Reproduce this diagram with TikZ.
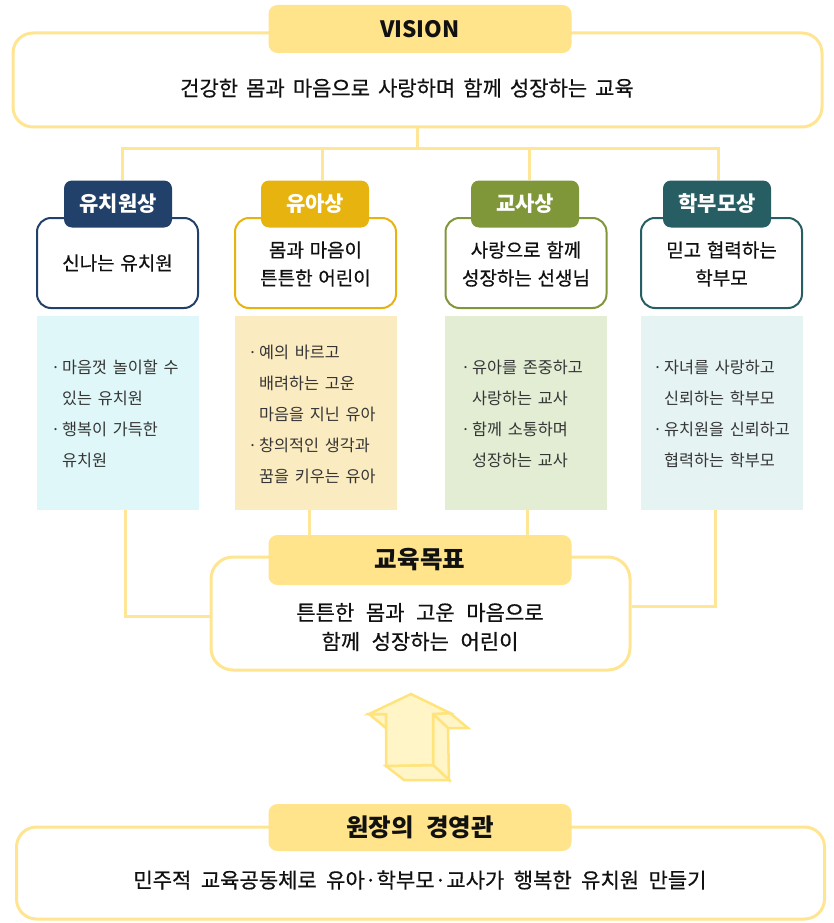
\documentclass[tikz,border=0pt]{standalone}
\usepackage{fontspec}
\setmainfont{Noto Sans CJK KR}
\newfontfamily\medfont{Noto Sans CJK KR}[FakeBold=0.5]
\usetikzlibrary{calc}
\pgfdeclarelayer{background}
\pgfsetlayers{background,main}
\definecolor{goldlabel}{HTML}{FFE48C}
\definecolor{goldline}{HTML}{FFE592}
\definecolor{connline}{HTML}{FFE697}
\definecolor{navy}{HTML}{21416A}
\definecolor{goldhd}{HTML}{E6B30F}
\definecolor{olive}{HTML}{7F9639}
\definecolor{tealhd}{HTML}{275E63}
\definecolor{cyanbg}{HTML}{DFF7F8}
\definecolor{tanbg}{HTML}{FAEBC0}
\definecolor{greenbg}{HTML}{E2EDD4}
\definecolor{tealbg}{HTML}{E6F3F3}
\definecolor{bodytxt}{HTML}{111111}
\definecolor{graytxt}{HTML}{353535}
\definecolor{arrowfill}{HTML}{FFF5C6}
\definecolor{arrowline}{HTML}{FFE37C}
\newcommand{\spcA}{\spaceskip 0.38em\relax}
\newcommand{\spcB}{\spaceskip 0.3em\relax}
\newcommand{\spcC}{\spaceskip 0.35em\relax}
\newcommand{\spcD}{\spaceskip 0.55em\relax}
\newcommand{\spcE}{\spaceskip 0.5em\relax}
\newcommand{\spcF}{\spaceskip 0.45em\relax}
\tikzset{
  bigbox/.style={draw=goldline, line width=3pt, fill=white, rounded corners=20pt, inner sep=0pt},
  goldlab/.style={fill=goldlabel, rounded corners=9pt, inner sep=0pt, minimum width=303pt, text=bodytxt},
  hdlab/.style={fill=#1, rounded corners=8pt, inner sep=0pt, minimum width=108pt, minimum height=47pt, text=white, font=\bfseries\fontsize{21pt}{24pt}\selectfont},
  wbox/.style={draw=#1, line width=2pt, fill=white, rounded corners=14pt, inner sep=0pt, minimum width=161pt, minimum height=90pt},
  wtext/.style={align=center, text=bodytxt, font=\medfont\fontsize{19pt}{28pt}\selectfont\spcB},
  cbox/.style={fill=#1, inner sep=0pt, minimum width=162pt, minimum height=194pt},
  ctext/.style={align=left, anchor=west, inner sep=0pt, text=graytxt, font=\fontsize{16.3pt}{31pt}\selectfont\spcC},
  conn/.style={draw=connline, line width=3pt},
  maintext/.style={text=bodytxt, font=\medfont\fontsize{21pt}{29pt}\selectfont\spcA, align=center}
}
\newcommand{\bul}{\makebox[11pt][l]{·}}
\newcommand{\ind}{\hspace*{11pt}}
\begin{document}
\begin{tikzpicture}[x=1pt,y=-1pt]
\useasboundingbox (0,0) rectangle (833,923);
% VISION
\node[bigbox, minimum width=809pt, minimum height=94pt] (vbox) at (417.5,80) {};
\node[goldlab, minimum height=48pt, font=\bfseries\fontsize{22.5pt}{26pt}\selectfont] (vlab) at (420,29) {VISION};
\node[maintext] (vtext) at (407,88) {건강한 몸과 마음으로 사랑하며 함께 성장하는 교육};
\coordinate (hub) at (419,148);
% columns
\node[wbox=navy] (w1) at (117.5,263) {};
\node[wbox=goldhd] (w2) at (315.5,263) {};
\node[wbox=olive] (w3) at (526,263) {};
\node[wbox=tealhd] (w4) at (721.5,263) {};
\node[hdlab=navy] (h1) at (118,204) {유치원상};
\node[hdlab=goldhd] (h2) at (315,204) {유아상};
\node[hdlab=olive] (h3) at (525,204) {교사상};
\node[hdlab=tealhd] (h4) at (717,204) {학부모상};
\node[wtext] (t1) at (117.5,263) {신나는 유치원};
\node[wtext] (t2) at (315.5,264) {몸과 마음이\\튼튼한 어린이};
\node[wtext] (t3) at (526,264) {사랑으로 함께\\성장하는 선생님};
\node[wtext] (t4) at (721.5,264) {믿고 협력하는\\학부모};
\node[cbox=cyanbg] (c1) at (118,413) {};
\node[cbox=tanbg] (c2) at (316,413) {};
\node[cbox=greenbg] (c3) at (526,413) {};
\node[cbox=tealbg] (c4) at (722,413) {};
\node[ctext] (l1) at (51,414) {\bul 마음껏 놀이할 수\\\ind 있는 유치원\\\bul 행복이 가득한\\\ind 유치원};
\node[ctext] (l2) at (248,414) {\bul 예의 바르고\\\ind 배려하는 고운\\\ind 마음을 지닌 유아\\\bul 창의적인 생각과\\\ind 꿈을 키우는 유아};
\node[ctext] (l3) at (461,414) {\bul 유아를 존중하고\\\ind 사랑하는 교사\\\bul 함께 소통하며\\\ind 성장하는 교사};
\node[ctext] (l4) at (653,414) {\bul 자녀를 사랑하고\\\ind 신뢰하는 학부모\\\bul 유치원을 신뢰하고\\\ind 협력하는 학부모};
% goal
\node[bigbox, rounded corners=22pt, minimum width=419pt, minimum height=113pt] (gbox) at (420.5,613.5) {};
\node[goldlab, minimum height=50pt, font=\bfseries\fontsize{24.5pt}{28pt}\selectfont] (glab) at (420,560) {교육목표};
\node[maintext, font=\medfont\fontsize{21pt}{29pt}\selectfont\spcD] (gtext) at (420,627) {튼튼한 몸과 고운 마음으로\\함께 성장하는 어린이};
% arrow
\begin{scope}[line width=2.5pt, draw=arrowline, fill=arrowfill, line join=miter]
\filldraw (450,713) -- (468,728) -- (448,728) -- (433,714) -- cycle;
\filldraw (433,714) -- (448,728) -- (449,780) -- (433,765) -- cycle;
\filldraw (386,766) -- (433,765) -- (449,780) -- (404,780) -- cycle;
\filldraw (369,714) -- (386,714) -- (386,728) -- cycle;
\filldraw (411,694) -- (450,713) -- (433,714) -- (433,765) -- (386,766) -- (386,714) -- (369,714) -- cycle;
\end{scope}
% bottom
\node[bigbox, minimum width=808pt, minimum height=92pt] (bbox) at (420.5,873) {};
\node[goldlab, minimum height=47pt, font=\bfseries\fontsize{24.5pt}{28pt}\selectfont\spcE] (blab) at (420,827.5) {원장의 경영관};
\node[maintext, font=\medfont\fontsize{21pt}{29pt}\selectfont\spcF] (btext) at (420,880) {민주적 교육공동체로 유아·학부모·교사가 행복한 유치원 만들기};
% connectors
\begin{pgfonlayer}{background}
\draw[conn] (vbox.south) -- (vbox.south |- hub);
\draw[conn] ([xshift=4pt]h1.north) |- (hub) -| ([xshift=1pt]h4.north);
\draw[conn] ([xshift=7pt]h2.north) -- ([xshift=7pt]h2.north |- hub);
\draw[conn] ([xshift=4pt]h3.north) -- ([xshift=4pt]h3.north |- hub);
\draw[conn] ([xshift=7.5pt]c1.south) |- ([yshift=-3pt]gbox.west);
\draw[conn] ([xshift=-7pt]c2.south) -- ([xshift=-7pt]c2.south |- glab.north);
\draw[conn] ([xshift=1pt]c3.south) -- ([xshift=1pt]c3.south |- glab.north);
\draw[conn] ([xshift=-6.5pt]c4.south) |- ([yshift=7pt]gbox.east);
\end{pgfonlayer}
\end{tikzpicture}
\end{document}
